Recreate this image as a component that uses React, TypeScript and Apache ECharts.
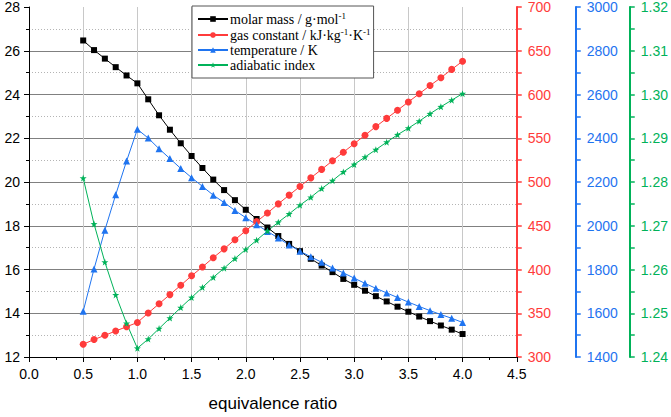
import React, { useEffect, useRef } from "react";
import * as echarts from "echarts";

const ratios = [
  0.5, 0.6, 0.7, 0.8, 0.9, 1.0, 1.1, 1.2, 1.3, 1.4, 1.5, 1.6, 1.7, 1.8, 1.9, 2.0, 2.1, 2.2,
  2.3, 2.4, 2.5, 2.6, 2.7, 2.8, 2.9, 3.0, 3.1, 3.2, 3.3, 3.4, 3.5, 3.6, 3.7, 3.8, 3.9, 4.0,
];

const molarMass = [
  26.47, 26.03, 25.64, 25.25, 24.87, 24.51, 23.78, 23.05, 22.39, 21.77, 21.19, 20.64, 20.11,
  19.63, 19.17, 18.73, 18.31, 17.92, 17.53, 17.17, 16.84, 16.49, 16.18, 15.88, 15.57, 15.3,
  15.03, 14.78, 14.54, 14.3, 14.07, 13.85, 13.64, 13.44, 13.25, 13.05,
];

const gasConstant = [
  314.6, 319.9, 324.8, 329.7, 334.6, 339.4, 350.3, 360.8, 371.3, 381.9, 392.8, 402.9, 413.5,
  423.6, 434.1, 444.2, 454.7, 464.5, 475.0, 485.0, 494.9, 504.7, 514.4, 524.2, 534.0, 543.7,
  553.5, 563.3, 572.7, 582.0, 591.5, 600.8, 610.2, 619.2, 628.7, 638.0,
];

const temperature = [
  1608.7, 1802.5, 1980, 2142, 2295.6, 2441, 2400.6, 2352, 2307, 2262, 2220, 2180, 2140, 2106,
  2070, 2037, 2005, 1974, 1944, 1912, 1884, 1858, 1833, 1807, 1784.5, 1760.6, 1736.6, 1714,
  1693, 1672, 1651, 1631, 1612, 1594, 1577, 1558,
];

const adiabaticIndex = [
  1.2809, 1.2704, 1.2617, 1.2542, 1.2477, 1.242, 1.2441, 1.2465, 1.2489, 1.2513, 1.2536,
  1.2559, 1.2582, 1.2603, 1.2625, 1.2646, 1.2667, 1.2688, 1.2708, 1.2727, 1.2747, 1.2765,
  1.2785, 1.2803, 1.2823, 1.284, 1.2857, 1.2874, 1.2891, 1.2908, 1.2923, 1.2939, 1.2956,
  1.2972, 1.2987, 1.3002,
];

const seriesNames = ["molar mass", "gas constant", "temperature", "adiabatic index"];
const legendLabels: Record<string, string> = {
  "molar mass": "{n|molar mass / g·mol}{s|-1}",
  "gas constant": "{n|gas constant / kJ·kg}{s|-1}{n|·K}{s|-1}",
  temperature: "{n|temperature / K}",
  "adiabatic index": "{n|adiabatic index}",
};

const BLACK = "#000000";
const RED = "#ff3b3b";
const BLUE = "#1f74f0";
const GREEN = "#00b259";
const SANS = "'Liberation Sans', Arial, sans-serif";
const SERIF = "'Liberation Serif', 'Times New Roman', serif";
const STAR =
  "path://M0,-10 L2.35,-3.24 L9.51,-3.09 L3.8,1.24 L5.88,8.09 L0,4 L-5.88,8.09 L-3.8,1.24 L-9.51,-3.09 L-2.35,-3.24 Z";

function pairs(vals: number[]) {
  return ratios.map((x, i) => [x, vals[i]]);
}

function rightAxis(
  color: string,
  min: number,
  max: number,
  interval: number,
  offset: number,
  digits: number
) {
  return {
    type: "value",
    position: "right",
    offset,
    min,
    max,
    interval,
    axisLine: { show: true, onZero: false, lineStyle: { color, width: 2 } },
    axisTick: { show: true, inside: false, length: 5, lineStyle: { color, width: 1.5 } },
    minorTick: { show: true, splitNumber: 2, length: 5, lineStyle: { color, width: 1.5 } },
    axisLabel: {
      color,
      fontSize: 14,
      fontFamily: SANS,
      margin: 11,
      formatter: (v: number) => v.toFixed(digits),
    },
    splitLine: { show: false },
    minorSplitLine: { show: false },
  };
}

export default function App() {
  const ref = useRef<HTMLDivElement>(null);

  useEffect(() => {
    document.body.style.margin = "0";
    if (!ref.current) return;
    const chart = echarts.init(ref.current, null, { renderer: "svg" });
    const lineCommon = {
      type: "line",
      showSymbol: true,
      lineStyle: { width: 1 },
    };
    chart.setOption({
      animation: false,
      backgroundColor: "#ffffff",
      grid: { left: 29, right: 153, top: 7, bottom: 55 },
      legend: {
        data: seriesNames,
        orient: "vertical",
        left: 192,
        top: 6,
        padding: [5, 3, 6, 5],
        itemGap: 1,
        itemWidth: 30,
        itemHeight: 7,
        backgroundColor: "#ffffff",
        borderColor: "#555555",
        borderWidth: 1,
        borderRadius: 0,
        formatter: (name: string) => legendLabels[name] || name,
        textStyle: {
          fontFamily: SERIF,
          fontSize: 14,
          color: "#000",
          padding: [0, 0, 0, -3],
          rich: {
            n: { fontFamily: SERIF, fontSize: 14, color: "#000", lineHeight: 16 },
            s: { fontFamily: SERIF, fontSize: 9, color: "#000", verticalAlign: "top", lineHeight: 16, padding: [0, 0, 4, 0] },
          },
        },
        z: 10,
      },
      xAxis: {
        type: "value",
        min: 0,
        max: 4.5,
        interval: 0.5,
        name: "equivalence ratio",
        nameLocation: "middle",
        nameGap: 38,
        nameTextStyle: { fontFamily: SANS, fontSize: 17, color: "#000" },
        axisLine: { show: true, onZero: false, lineStyle: { color: "#000", width: 1 } },
        axisTick: { show: true, inside: false, length: 5, lineStyle: { color: "#000" } },
        minorTick: { show: true, splitNumber: 2, length: 3, lineStyle: { color: "#000" } },
        axisLabel: {
          color: "#000",
          fontSize: 14,
          fontFamily: SANS,
          margin: 10,
          formatter: (v: number) => v.toFixed(1),
        },
        splitLine: {
          show: true,
          showMinLine: false,
          showMaxLine: false,
          lineStyle: { color: "#c8c8c8", width: 1 },
        },
      },
      yAxis: [
        {
          type: "value",
          position: "left",
          min: 12,
          max: 28,
          interval: 2,
          axisLine: { show: true, onZero: false, lineStyle: { color: "#000", width: 1 } },
          axisTick: { show: true, inside: false, length: 5, lineStyle: { color: "#000" } },
          minorTick: { show: true, splitNumber: 2, length: 3, lineStyle: { color: "#000" } },
          axisLabel: { color: "#000", fontSize: 14, fontFamily: SANS, margin: 9 },
          splitLine: {
            show: true,
            showMinLine: false,
            showMaxLine: false,
            lineStyle: { color: "#808080", width: 1 },
          },
          minorSplitLine: {
            show: true,
            lineStyle: { color: "#b4b4b4", width: 1, type: [1, 2] },
          },
        },
        rightAxis(RED, 300, 700, 50, 0, 0),
        rightAxis(BLUE, 1400, 3000, 200, 59, 0),
        rightAxis(GREEN, 1.24, 1.32, 0.01, 113, 2),
      ],
      series: [
        {
          ...lineCommon,
          name: seriesNames[0],
          yAxisIndex: 0,
          data: pairs(molarMass),
          symbol: "rect",
          symbolSize: 6,
          itemStyle: { color: BLACK },
          lineStyle: { width: 1, color: BLACK },
        },
        {
          ...lineCommon,
          name: seriesNames[1],
          yAxisIndex: 1,
          data: pairs(gasConstant),
          symbol: "circle",
          symbolSize: 7,
          itemStyle: { color: RED },
          lineStyle: { width: 1, color: RED },
        },
        {
          ...lineCommon,
          name: seriesNames[2],
          yAxisIndex: 2,
          data: pairs(temperature),
          symbol: "triangle",
          symbolSize: 7,
          itemStyle: { color: BLUE },
          lineStyle: { width: 1, color: BLUE },
        },
        {
          ...lineCommon,
          name: seriesNames[3],
          yAxisIndex: 3,
          data: pairs(adiabaticIndex),
          symbol: STAR,
          symbolSize: 7,
          itemStyle: { color: GREEN },
          lineStyle: { width: 1, color: GREEN },
        },
      ],
    });
    return () => chart.dispose();
  }, []);

  return <div ref={ref} style={{ width: 671, height: 417 }} />;
}
